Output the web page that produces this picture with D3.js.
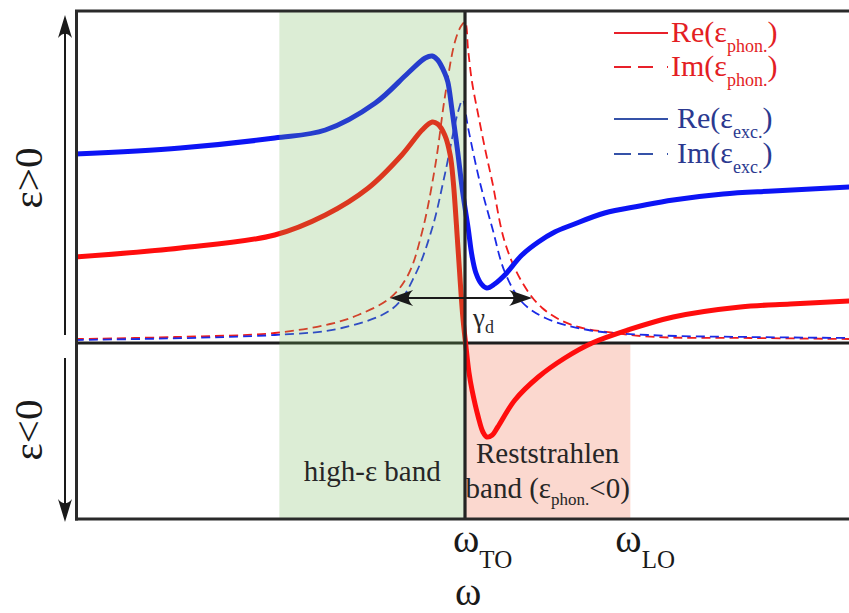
<!DOCTYPE html>
<html>
<head>
<meta charset="utf-8">
<script src="https://cdn.jsdelivr.net/npm/d3@7"></script>
<style>
  html, body { margin: 0; padding: 0; background: #fff; }
  svg { display: block; }
  text { font-family: "Liberation Serif", "Times New Roman", serif; }
</style>
</head>
<body>
<svg id="chart" width="849" height="613"></svg>
<script>
// Dielectric response near a phonon resonance (arbitrary units: ω, ε)

// Frequencies of the transverse / longitudinal optical phonons and band limits
const omegaTO = 50.0;
const omegaLO = 71.2;
const highEpsStart = 26.2;

// Re(ε_phon.)
const reEpsPhon = [
  [0, 0.86], [13.5, 0.95], [25.6, 1.08], [32.1, 1.28], [37.6, 1.55], [41.9, 1.88],
  [44.5, 2.13], [45.8, 2.21], [46.5, 2.19], [47.4, 2.08], [48.1, 1.88], [48.5, 1.61],
  [49.1, 0.95], [49.7, 0.28], [50.1, -0.02], [50.5, -0.29], [50.9, -0.47], [51.7, -0.74],
  [52.3, -0.89], [52.8, -0.94], [53.5, -0.92], [54.2, -0.84], [56.4, -0.57], [59.4, -0.34],
  [62.8, -0.15], [66.3, 0.0], [70.9, 0.13], [76.7, 0.26], [85.3, 0.36], [91.7, 0.39], [99.3, 0.42]
];

// Im(ε_phon.)
const imEpsPhon = [
  [0, 0.04], [12.8, 0.06], [25.6, 0.10], [32.7, 0.19], [36.3, 0.28], [40.4, 0.45],
  [42.7, 0.68], [44.5, 1.11], [46.2, 1.78], [47.4, 2.45], [48.7, 3.01], [49.5, 3.17],
  [50.0, 3.21], [50.4, 2.93], [50.9, 2.61], [51.7, 2.28], [52.6, 1.93], [53.5, 1.61],
  [55.1, 1.01], [57.3, 0.61], [59.9, 0.35], [63.7, 0.18], [69.2, 0.10], [74.4, 0.06],
  [86.5, 0.05], [99.3, 0.04]
];

// Re(ε_exc.)
const reEpsExc = [
  [0, 1.89], [13.5, 1.95], [25.6, 2.05], [32.1, 2.13], [38.5, 2.40], [42.7, 2.70],
  [44.9, 2.85], [45.8, 2.87], [46.5, 2.83], [47.4, 2.70], [47.8, 2.61], [48.3, 2.35],
  [49.0, 1.95], [49.7, 1.51], [50.4, 1.15], [50.9, 0.87], [51.4, 0.70], [52.1, 0.59],
  [52.8, 0.55], [53.8, 0.59], [55.1, 0.68], [57.3, 0.88], [59.4, 1.01], [61.5, 1.11],
  [63.7, 1.18], [67.9, 1.30], [72.4, 1.37], [76.7, 1.43], [83.1, 1.49], [89.5, 1.52], [99.3, 1.56]
];

// Im(ε_exc.)
const imEpsExc = [
  [0, 0.03], [25.6, 0.08], [34.2, 0.15], [40.8, 0.35], [43.6, 0.68], [45.8, 1.15],
  [47.4, 1.68], [49.1, 2.31], [49.7, 2.43], [50.4, 2.15], [51.9, 1.61], [53.5, 1.15],
  [55.1, 0.71], [57.3, 0.41], [60.3, 0.25], [65.8, 0.13], [73.5, 0.08], [86.5, 0.06], [99.3, 0.05]
];

// Linewidth γ_d marked at half height of Im(ε_phon.)
const gammaSpan = [40.4, 58.6];
const gammaLevel = 0.45;

const series = [
  { name: "Re", sub: "phon.", data: reEpsPhon, color: "#ff0d0d", key: "#e8202a", text: "#e31e24", dashed: false },
  { name: "Im", sub: "phon.", data: imEpsPhon, color: "#f01c1c", key: "#e8202a", text: "#e31e24", dashed: true },
  { name: "Re", sub: "exc.",  data: reEpsExc,  color: "#0c14f5", key: "#3552a8", text: "#2b3990", dashed: false },
  { name: "Im", sub: "exc.",  data: imEpsExc,  color: "#1a2ae6", key: "#3552a8", text: "#2b3990", dashed: true }
];

const svg = d3.select("#chart");
const plotLeft = 75, plotRight = 849, plotTop = 10, plotBottom = 519;

const x = d3.scaleLinear().domain([0, 99.23]).range([plotLeft, plotRight]);
const y = d3.scaleLinear().domain([-1.76, 3.33]).range([plotBottom, plotTop]);

svg.append("defs").append("clipPath").attr("id", "plotClip")
  .append("rect").attr("x", plotLeft).attr("y", plotTop)
  .attr("width", plotRight - plotLeft).attr("height", plotBottom - plotTop);

// Reststrahlen band (ε_phon. < 0)
svg.append("rect")
  .attr("x", x(omegaTO)).attr("y", y(0))
  .attr("width", x(omegaLO) - x(omegaTO)).attr("height", y(-1.76) - y(0))
  .attr("fill", "#fbd8cf");

// Zero line
svg.append("line")
  .attr("x1", plotLeft).attr("x2", plotRight)
  .attr("y1", y(0)).attr("y2", y(0))
  .attr("stroke", "#1e1e1e").attr("stroke-width", 3);

// Curves
const line = d3.line()
  .x(d => x(d[0])).y(d => y(d[1]))
  .curve(d3.curveCatmullRom.alpha(0.5));

const curves = svg.append("g").attr("clip-path", "url(#plotClip)");
[series[1], series[3], series[0], series[2]].forEach(s => {
  curves.append("path")
    .attr("d", line(s.data))
    .attr("fill", "none")
    .attr("stroke", s.color)
    .attr("stroke-width", s.dashed ? 1.8 : 5)
    .attr("stroke-dasharray", s.dashed ? "9,5" : null)
    .attr("stroke-linejoin", "round")
    .attr("stroke-linecap", s.dashed ? "butt" : "round");
});

// High-ε band, laid over the curves as a translucent tint
svg.append("rect")
  .attr("x", x(highEpsStart)).attr("y", plotTop)
  .attr("width", x(omegaTO) - x(highEpsStart)).attr("height", plotBottom - plotTop)
  .attr("fill", "rgb(115,183,87)").attr("fill-opacity", 0.25);

// ω_TO marker line
svg.append("line")
  .attr("x1", x(omegaTO)).attr("x2", x(omegaTO))
  .attr("y1", plotTop).attr("y2", plotBottom)
  .attr("stroke", "#232323").attr("stroke-width", 3.2);

// Frame
const frame = svg.append("g").attr("stroke", "#2a2a2a").attr("stroke-width", 3).attr("fill", "none");
frame.append("line").attr("x1", plotLeft + 1.5).attr("x2", plotLeft + 1.5).attr("y1", plotTop).attr("y2", plotBottom + 1.5);
frame.append("line").attr("x1", plotLeft).attr("x2", plotRight).attr("y1", plotTop + 1).attr("y2", plotTop + 1);
frame.append("line").attr("x1", plotLeft).attr("x2", plotRight).attr("y1", plotBottom).attr("y2", plotBottom);

// Stealth arrowhead pointing along +x from the origin
function arrowHead(g, tx, ty, angle, len, half) {
  g.append("path")
    .attr("d", `M0,0 L${-len},${-half} Q${-len * 0.62},0 ${-len},${half} Z`)
    .attr("transform", `translate(${tx},${ty}) rotate(${angle})`)
    .attr("fill", "#1a1a1a");
}

// Double arrow for γ_d
const ga = svg.append("g");
ga.append("line")
  .attr("x1", x(gammaSpan[0]) + 4).attr("x2", x(gammaSpan[1]) - 4)
  .attr("y1", y(gammaLevel)).attr("y2", y(gammaLevel))
  .attr("stroke", "#1a1a1a").attr("stroke-width", 2.2);
arrowHead(ga, x(gammaSpan[0]), y(gammaLevel), 180, 23, 8);
arrowHead(ga, x(gammaSpan[1]), y(gammaLevel), 0, 23, 8);
const gl = svg.append("text").attr("x", 473).attr("y", 327).attr("fill", "#2a2a2a");
gl.append("tspan").attr("font-size", 27).text("γ");
gl.append("tspan").attr("font-size", 18).attr("dy", 6).text("d");

// Vertical ε direction arrows
const ya = svg.append("g");
const axX = 65;
ya.append("line").attr("x1", axX).attr("x2", axX).attr("y1", 335).attr("y2", 30)
  .attr("stroke", "#1a1a1a").attr("stroke-width", 2);
arrowHead(ya, axX, 15, -90, 23, 7);
ya.append("line").attr("x1", axX).attr("x2", axX).attr("y1", 358).attr("y2", 508)
  .attr("stroke", "#1a1a1a").attr("stroke-width", 2);
arrowHead(ya, axX, 522, 90, 23, 7);

svg.append("text").attr("transform", "translate(42,178) rotate(-90)")
  .attr("text-anchor", "middle").attr("font-size", 41).attr("fill", "#1a1a1a").text("ε>0");
svg.append("text").attr("transform", "translate(42,430) rotate(-90)")
  .attr("text-anchor", "middle").attr("font-size", 41).attr("fill", "#1a1a1a").text("ε<0");

// Band labels
svg.append("text").attr("x", (x(highEpsStart) + x(omegaTO)) / 2).attr("y", 481)
  .attr("text-anchor", "middle").attr("font-size", 29).attr("fill", "#262626").text("high-ε band");
svg.append("text").attr("x", (x(omegaTO) + x(omegaLO)) / 2).attr("y", 463)
  .attr("text-anchor", "middle").attr("font-size", 29).attr("fill", "#262626").text("Reststrahlen");
const rb = svg.append("text").attr("x", (x(omegaTO) + x(omegaLO)) / 2).attr("y", 498)
  .attr("text-anchor", "middle").attr("font-size", 29).attr("fill", "#262626");
rb.append("tspan").text("band (ε");
rb.append("tspan").attr("font-size", 17).attr("dy", 7).text("phon.");
rb.append("tspan").attr("dy", -7).text("<0)");

// Frequency labels under the frame
function omegaLabel(cx, sub) {
  const t = svg.append("text").attr("x", cx).attr("y", 552).attr("fill", "#1a1a1a");
  t.append("tspan").attr("font-size", 40).text("ω");
  t.append("tspan").attr("font-size", 25).attr("dy", 16).text(sub);
}
omegaLabel(x(omegaTO) - 12, "TO");
omegaLabel(x(omegaLO) - 15, "LO");
svg.append("text").attr("x", x(omegaTO) - 10).attr("y", 605)
  .attr("font-size", 40).attr("fill", "#1a1a1a").text("ω");

// Legend
const legendRows = [33, 67, 119, 154];
const legendTextX = [671, 671, 677, 677];
series.forEach((s, i) => {
  const ly = legendRows[i];
  svg.append("line")
    .attr("x1", 614).attr("x2", 668).attr("y1", ly).attr("y2", ly)
    .attr("stroke", s.key).attr("stroke-width", 2.2)
    .attr("stroke-dasharray", s.dashed ? "17,7,15,14,1,99" : null);
  const t = svg.append("text").attr("x", legendTextX[i]).attr("y", ly + 9)
    .attr("font-size", 30).attr("fill", s.text);
  t.append("tspan").text(s.name + "(ε");
  t.append("tspan").attr("font-size", 18).attr("dy", 10).text(s.sub);
  t.append("tspan").attr("dy", -10).text(")");
});
</script>
</body>
</html>
